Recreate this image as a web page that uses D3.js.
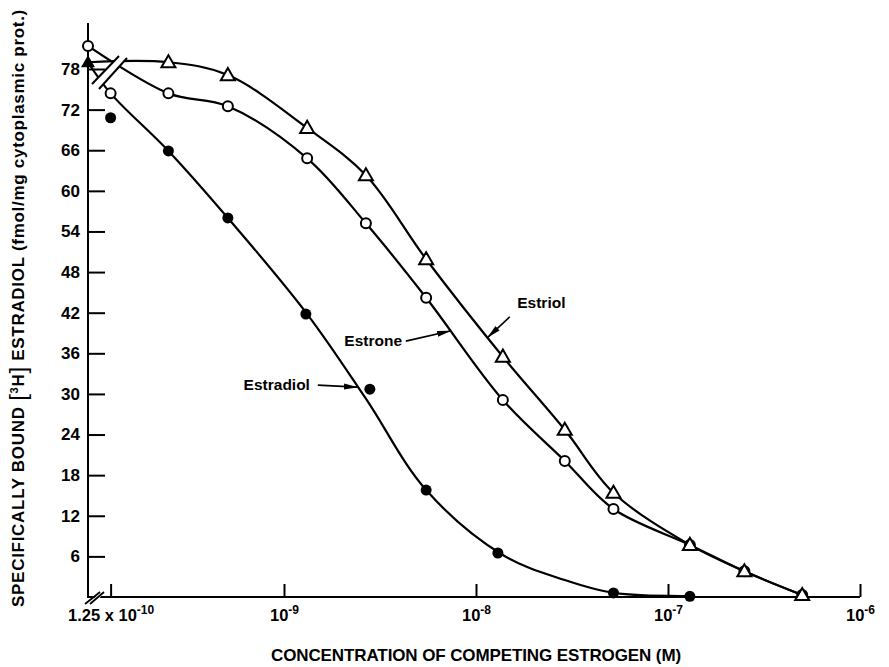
<!DOCTYPE html>
<html><head><meta charset="utf-8">
<script src="https://cdn.jsdelivr.net/npm/d3@7"></script>
<style>
body{margin:0;background:#fff}
svg{display:block;background:#fff}
text{font-family:"Liberation Sans",Arial,Helvetica,sans-serif;font-weight:bold;fill:#000}
</style>
</head><body>
<svg id="chart" width="889" height="667"></svg>
<script>
// ---- data ----
const concentration   = [1.25e-10, 2.5e-10, 5.1e-10, 1.32e-9, 2.67e-9, 5.5e-9, 1.38e-8, 2.9e-8, 5.2e-8, 1.3e-7, 2.5e-7, 5e-7];
const estroneControl  = 81.4;
const estriolControl  = 79.0;
const estradiolControl = 79.0;
const estronePoints   = [74.4, 74.4, 72.5, 64.8, 55.2, 44.2, 29.1, 20.1, 13.0, 7.7, 3.8, 0.3];
const estriolPoints   = [null, 79.0, 77.1, 69.3, 62.3, 49.9, 35.5, 24.7, 15.4, 7.7, 3.8, 0.3];
const estradiolConc   = [1.25e-10, 2.5e-10, 5.1e-10, 1.3e-9, 2.8e-9, 5.5e-9, 1.3e-8, 5.2e-8, 1.3e-7];
const estradiolPoints = [70.8, 65.9, 56.0, 41.8, 30.7, 15.8, 6.5, 0.6, 0.1];
// fitted curves as drawn (value of the drawn line at each concentration)
const estroneCurve    = [null, 74.4, 72.5, 64.8, 55.2, 44.2, 29.1, 20.1, 13.0, 7.7, 3.8, 0.3];
const estriolCurve    = [null, 79.0, 77.1, 69.3, 62.3, 49.9, 35.5, 24.7, 15.4, 7.7, 3.8, 0.3];
const estradiolCurve  = [74.4, 65.9, 56.0, 41.8, 29.3, 15.8, 6.2, 2.5, 0.6, 0.15, null, null];
const yTicks = [6, 12, 18, 24, 30, 36, 42, 48, 54, 60, 66, 72, 78];
const xTicks = [1.25e-10, 1e-9, 1e-8, 1e-7, 1e-6];
const xTickBase = ["1.25 x 10", "10", "10", "10", "10"];
const xTickExp  = ["-10", "-9", "-8", "-7", "-6"];
const labels = [
  {name: "Estriol",   text: [1.64e-8, 42.7], anchor: "start", from: [1.5e-8, 41.4],  to: [1.155e-8, 38.4]},
  {name: "Estrone",   text: [4.12e-9, 37.1], anchor: "end",   from: [4.31e-9, 37.8], to: [7.33e-9, 39.3]},
  {name: "Estradiol", text: [1.365e-9, 30.6], anchor: "end",  from: [1.5e-9, 31.3],  to: [2.4e-9, 31.0]}
];
const xTitle = "CONCENTRATION OF COMPETING ESTROGEN (M)";

// ---- layout ----
const svg = d3.select("#chart");
const axisX = 88;
const x = d3.scaleLog().domain([1e-9, 1e-6]).range([284, 860]);
const y = d3.scaleLinear().domain([0, 78]).range([597, 69]);
const y0 = y(0);
const px = c => c == null ? axisX : x(c);

// ---- axes ----
const gy = svg.append("g").attr("transform", `translate(${axisX},0)`)
  .call(d3.axisLeft(y).tickValues(yTicks).tickSize(-17).tickPadding(8).tickFormat(d3.format("d")));
gy.select(".domain").remove();
gy.selectAll(".tick line").attr("stroke", "#000").attr("stroke-width", 2);
gy.selectAll(".tick text").attr("font-size", 17).attr("fill", "#000");

svg.append("line").attr("x1", axisX).attr("x2", axisX).attr("y1", y0 + 1).attr("y2", 23)
  .attr("stroke", "#000").attr("stroke-width", 2);

const gx = svg.append("g").attr("transform", `translate(0,${y0})`)
  .call(d3.axisBottom(x).tickValues(xTicks).tickSize(-13).tickPadding(12).tickFormat(() => ""));
gx.select(".domain").remove();
gx.selectAll(".tick line").attr("stroke", "#000").attr("stroke-width", 2);
gx.selectAll(".tick text").each(function(d, i) {
  const t = d3.select(this).attr("font-size", 16.5).attr("fill", "#000").attr("dy", "0.71em");
  t.append("tspan").text(xTickBase[i]);
  t.append("tspan").attr("font-size", 12).attr("dy", "-0.55em").text(xTickExp[i]);
});
svg.append("line").attr("x1", axisX - 1).attr("x2", x(1e-6)).attr("y1", y0).attr("y2", y0)
  .attr("stroke", "#000").attr("stroke-width", 2);

// x-axis break
svg.append("path").attr("d", `M${axisX+2},${y0+6} L${axisX+7},${y0+6} L${axisX+17},${y0-5} L${axisX+12},${y0-5}Z`)
  .attr("fill", "#fff");
[[axisX - 3, axisX + 12], [axisX + 2, axisX + 16]].forEach(([a, b]) => {
  svg.append("line").attr("x1", a).attr("y1", y0 + 7).attr("x2", b).attr("y2", y0 - 5)
    .attr("stroke", "#000").attr("stroke-width", 1.8);
});

// ---- curves ----
function curveData(cont, vals) {
  const out = [];
  if (cont != null) out.push([axisX, y(cont)]);
  vals.forEach((v, i) => { if (v != null) out.push([x(concentration[i]), y(v)]); });
  return out;
}
const line = d3.line().curve(d3.curveCatmullRom.alpha(0.5));
const curves = [
  curveData(estroneControl, estroneCurve),
  curveData(estriolControl, estriolCurve),
  curveData(estradiolControl, estradiolCurve)
];
svg.append("clipPath").attr("id", "plotclip").append("rect")
  .attr("x", axisX).attr("y", 0).attr("width", 889).attr("height", y0);
svg.append("g").attr("clip-path", "url(#plotclip)").selectAll("path").data(curves).join("path")
  .attr("d", line).attr("fill", "none").attr("stroke", "#000").attr("stroke-width", 2.2);

// curve break (parallel slashes)
const yb = y(78);
const A = [[axisX + 4, yb + 15], [axisX + 31, yb - 13]];
const B = [[axisX + 11, yb + 20], [axisX + 39, yb - 11]];
svg.append("path").attr("d", `M${A[0]}L${A[1]}L${B[1]}L${B[0]}Z`).attr("fill", "#fff");
[A, B].forEach(s => svg.append("line").attr("x1", s[0][0]).attr("y1", s[0][1]).attr("x2", s[1][0]).attr("y2", s[1][1])
  .attr("stroke", "#000").attr("stroke-width", 2));

// ---- markers ----
const tri = d3.symbol().type(d3.symbolTriangle).size(85);
const mk = svg.append("g");
mk.selectAll(".eo").data([[null, estroneControl]].concat(estronePoints.map((v, i) => [concentration[i], v])))
  .join("circle").attr("cx", d => px(d[0])).attr("cy", d => y(d[1])).attr("r", 5)
  .attr("fill", "#fff").attr("stroke", "#000").attr("stroke-width", 2);
mk.selectAll(".tr").data(estriolPoints.map((v, i) => [concentration[i], v]).filter(d => d[1] != null))
  .join("path").attr("d", tri).attr("transform", d => `translate(${px(d[0])},${y(d[1]) + 1})`)
  .attr("fill", "#fff").attr("stroke", "#000").attr("stroke-width", 2);
mk.append("path").datum([null, estriolControl]).attr("d", tri)
  .attr("transform", d => `translate(${px(d[0])},${y(d[1]) + 1})`).attr("fill", "#000");
mk.selectAll(".ed").data(estradiolPoints.map((v, i) => [estradiolConc[i], v]))
  .join("circle").attr("cx", d => px(d[0])).attr("cy", d => y(d[1])).attr("r", 5.5).attr("fill", "#000");

// ---- annotations ----
svg.append("defs").append("marker").attr("id", "ah").attr("markerUnits", "userSpaceOnUse")
  .attr("viewBox", "0 -4 14 8").attr("refX", 13).attr("refY", 0)
  .attr("markerWidth", 14).attr("markerHeight", 8).attr("orient", "auto")
  .append("path").attr("d", "M0,-3 L14,0 L0,3 Z").attr("fill", "#000");
const ann = svg.append("g");
labels.forEach(l => {
  ann.append("text").attr("x", x(l.text[0])).attr("y", y(l.text[1])).attr("text-anchor", l.anchor)
    .attr("font-size", 15.5).text(l.name);
  ann.append("line").attr("x1", x(l.from[0])).attr("y1", y(l.from[1]))
    .attr("x2", x(l.to[0])).attr("y2", y(l.to[1]))
    .attr("stroke", "#000").attr("stroke-width", 1.6).attr("marker-end", "url(#ah)");
});

// ---- titles ----
const xt = svg.append("text").attr("x", x(1e-8)).attr("y", 661).attr("text-anchor", "middle")
  .attr("font-size", 17).text(xTitle);
{
  const len = xt.node().getComputedTextLength();
  xt.attr("letter-spacing", ((410 - len) / xTitle.length).toFixed(3));
}

const yt = svg.append("text").attr("transform", "translate(24,308) rotate(-90)")
  .attr("text-anchor", "middle").attr("font-size", 17);
yt.append("tspan").text("SPECIFICALLY BOUND ");
yt.append("tspan").attr("font-size", 24).attr("font-weight", "normal").attr("dy", 2).text("[");
yt.append("tspan").attr("font-size", 11).attr("dy", -8).text("3");
yt.append("tspan").attr("dy", 6).text("H");
yt.append("tspan").attr("font-size", 24).attr("font-weight", "normal").attr("dy", 2).text("]");
yt.append("tspan").attr("dy", -2).text(" ESTRADIOL (fmol/mg cytoplasmic prot.)");
{
  const len = yt.node().getComputedTextLength();
  const n = yt.text().length;
  yt.attr("letter-spacing", ((598 - len) / n).toFixed(3));
}
</script>
</body></html>
